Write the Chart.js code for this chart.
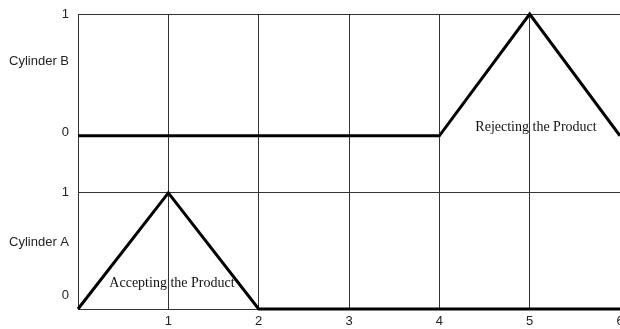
<!doctype html>
<html lang="en">
  <head>
    <meta charset="utf-8">
    <title>Cylinder sequence</title>
    <style>
      * { margin: 0; padding: 0; }
      body { background: white; }
      .chartBox { width: 620px; height: 329px; }
    </style>
  </head>
  <body>
    <div class="chartBox">
      <canvas id="myChart"></canvas>
    </div>
    <script src="https://cdn.jsdelivr.net/npm/chart.js"></script>
    <script>
    // setup
    const steps = [0, 1, 2, 3, 4, 5, 6];
    const stepLabels = ['', '1', '2', '3', '4', '5', '6'];
    const cylinderA = [0, 1, 0, 0, 0, 0, 0];
    const cylinderB = [0, 0, 0, 0, 0, 1, 0];
    const notes = [
      { text: 'Accepting the Product', x: 1.04, y: 0.22, axis: 'yA' },
      { text: 'Rejecting the Product', x: 5.07, y: 0.07, axis: 'yB' }
    ];

    const toPoints = vals => steps.map((s, i) => ({ x: s, y: vals[i] }));

    const gridColor = ctx => (ctx.tick && (ctx.tick.value === 0 || ctx.tick.value === 1)) ? '#333' : 'rgba(0,0,0,0)';
    const tickFont = { family: 'Liberation Sans, Arial, sans-serif', size: 13 };

    // zeroAt: where the "0" text sits (label only, the 0 line is the data baseline)
    function yAxis(name, min, max, mid, zeroAt, weight) {
      return {
        type: 'linear',
        position: 'left',
        stack: 'cyl',
        stackWeight: weight,
        min: min,
        max: max,
        afterBuildTicks: s => { s.ticks = [{ value: zeroAt }, { value: mid }, { value: 1 }]; },
        afterFit: s => { s.width = 78; s.paddingTop = 0; s.paddingBottom = 0; },
        ticks: {
          font: tickFont,
          color: '#222',
          padding: 9,
          callback: v => v === mid ? name : (v === 1 ? '1' : '0')
        },
        grid: { color: gridColor, drawTicks: false, lineWidth: 1 },
        border: { display: true, color: '#333' }
      };
    }

    const notesPlugin = {
      id: 'notes',
      afterDatasetsDraw(chart) {
        const c = chart.ctx;
        c.save();
        c.font = '14px "Liberation Serif", "Times New Roman", serif';
        c.fillStyle = '#111';
        c.textAlign = 'center';
        c.textBaseline = 'middle';
        notes.forEach(n => {
          c.fillText(n.text, chart.scales.x.getPixelForValue(n.x), chart.scales[n.axis].getPixelForValue(n.y));
        });
        c.restore();
      }
    };

    const data = {
      datasets: [{
        label: 'Cylinder B',
        data: toPoints(cylinderB),
        yAxisID: 'yB',
        borderColor: '#000',
        borderWidth: 3,
        pointRadius: 0,
        clip: false
      }, {
        label: 'Cylinder A',
        data: toPoints(cylinderA),
        yAxisID: 'yA',
        borderColor: '#000',
        borderWidth: 3,
        pointRadius: 0,
        clip: false
      }]
    };

    // config
    const config = {
      type: 'line',
      data,
      plugins: [notesPlugin],
      options: {
        responsive: true,
        maintainAspectRatio: false,
        animation: false,
        layout: { padding: { top: 14, right: 0, left: 0, bottom: 0 } },
        plugins: { legend: { display: false }, tooltip: { enabled: false } },
        scales: {
          x: {
            type: 'linear',
            min: 0,
            max: 6,
            afterBuildTicks: s => { s.ticks = steps.map(v => ({ value: v })); },
            afterFit: s => { s.height = 20; s.paddingLeft = 0; s.paddingRight = 0; },
            ticks: {
              font: tickFont,
              color: '#222',
              padding: 5,
              maxRotation: 0,
              callback: v => stepLabels[steps.indexOf(v)]
            },
            grid: { color: '#333', drawTicks: false, lineWidth: 1 },
            border: { display: true, color: '#333' }
          },
          yA: yAxis('Cylinder A', 0, 1.24, 0.57, 0.12, 144),
          yB: yAxis('Cylinder B', -0.24, 1, 0.61, 0.025, 151)
        }
      }
    };

    // render init block
    const myChart = new Chart(document.getElementById('myChart'), config);
    </script>
  </body>
</html>
